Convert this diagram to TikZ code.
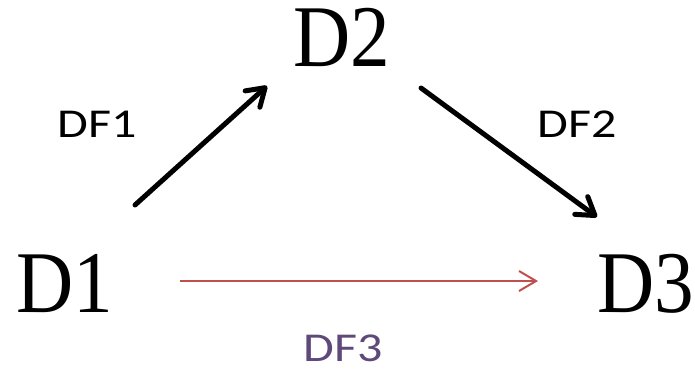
\documentclass[tikz,border=0pt]{standalone}
\usepackage{fontspec}
\setmainfont{Liberation Serif}
\newfontfamily\datafont[FakeStretch=0.9]{Liberation Serif}
\newfontfamily\labelfont[FakeStretch=1.22]{Carlito}
\usetikzlibrary{arrows.meta}
\definecolor{flowred}{HTML}{C0504D}
\definecolor{flowpurple}{HTML}{5F497A}
\begin{document}
\begin{tikzpicture}[x=1pt,y=-1pt,
  dnode/.style={anchor=base west,inner sep=0pt,text height=58pt,text depth=0pt,
    font=\datafont\fontsize{88}{88}\selectfont},
  flowlabel/.style={anchor=base west,inner sep=0pt,text height=27pt,text depth=0pt,
    font=\labelfont\fontsize{41}{41}\selectfont},
  flowarrow/.style={line width=5pt,line cap=round,
    -{Straight Barb[length=17pt,width=22pt,line join=round,line cap=round]}},
  directarrow/.style={draw=flowred,line width=2pt,
    -{Straight Barb[length=17pt,width=20pt,line width=2pt]}}]
  \useasboundingbox (0,0) rectangle (695,368);
  % data sets
  \node[dnode] (D1) at (16.5,312) {D1};
  \node[dnode] (D2) at (293.5,66) {D2};
  \node[dnode] (D3) at (597.5,312) {D3};
  % arrow ends
  \coordinate (a1s) at (135,205);
  \coordinate (a1e) at (267,86);
  \coordinate (a2s) at (421,88);
  \coordinate (a2e) at (597,217);
  \coordinate (a3s) at (180,281);
  \coordinate (a3e) at (538,281);
  % flows
  \draw[flowarrow] (a1s) -- (a1e);
  \draw[flowarrow] (a2s) -- (a2e);
  \draw[directarrow] (a3s) -- (a3e);
  % flow labels
  \node[flowlabel] (DF1) at (57.5,137.5) {DF1};
  \node[flowlabel] (DF2) at (537.5,137.5) {DF2};
  \node[flowlabel,text=flowpurple] (DF3) at (303.5,361) {DF3};
\end{tikzpicture}
\end{document}
